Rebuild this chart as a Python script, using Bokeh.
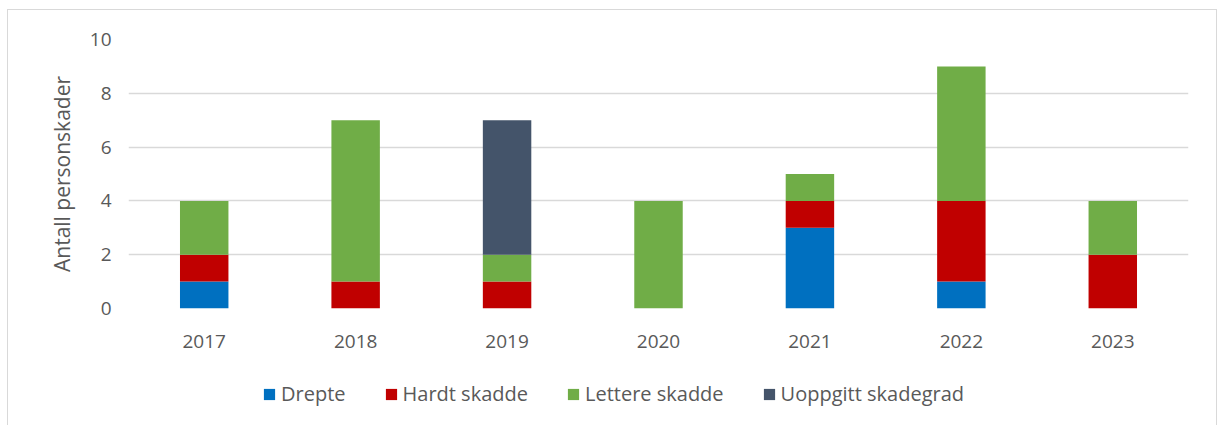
from bokeh.plotting import figure
from bokeh.models import ColumnDataSource, FactorRange, Range1d, Legend, FixedTicker
from bokeh.layouts import column
from bokeh.embed import file_html
from bokeh.resources import INLINE

years = ["2017", "2018", "2019", "2020", "2021", "2022", "2023"]
drepte = [1, 0, 0, 0, 3, 1, 0]
hardt = [1, 1, 1, 0, 1, 3, 2]
lettere = [2, 6, 1, 4, 1, 5, 2]
uoppgitt = [0, 0, 5, 0, 0, 0, 0]
series = ["Drepte", "Hardt skadde", "Lettere skadde", "Uoppgitt skadegrad"]
colors = ["#0070C0", "#C00000", "#70AD47", "#44546A"]
y_ticks = [0, 2, 4, 6, 8, 10]

src = ColumnDataSource(dict(x=years, Drepte=drepte, Hardt=hardt, Lettere=lettere, Uoppgitt=uoppgitt))
keys = ["Drepte", "Hardt", "Lettere", "Uoppgitt"]

FONT = "Open Sans"
TXT = "#595959"
W = 1208

xr = FactorRange(*years, range_padding=0)
xr.factor_padding = 0

p = figure(width=W, height=358, x_range=xr,
           y_range=Range1d(0, 10), output_backend="svg", toolbar_location=None,
           min_border_left=120, min_border_right=28, min_border_top=29, min_border_bottom=60,
           border_fill_color="white")
p.vbar_stack(keys, x="x", width=0.32, source=src, color=colors, line_color=None)

p.outline_line_color = None
p.xgrid.grid_line_color = None
p.ygrid.grid_line_color = "#D9D9D9"
p.ygrid.grid_line_width = 1.3
p.yaxis.ticker = FixedTicker(ticks=y_ticks)
for ax in (p.xaxis[0], p.yaxis[0]):
    ax.axis_line_color = None
    ax.major_tick_line_color = None
    ax.minor_tick_line_color = None
    ax.major_label_text_font = FONT
    ax.major_label_text_font_size = "19px"
    ax.major_label_text_color = TXT
p.yaxis.major_label_standoff = 11
p.xaxis.major_label_standoff = 20
p.yaxis.axis_label = "Antall personskader"
p.yaxis.axis_label_text_font = FONT
p.yaxis.axis_label_text_font_size = "21px"
p.yaxis.axis_label_text_font_style = "normal"
p.yaxis.axis_label_text_color = TXT
p.yaxis.axis_label_standoff = 11

# legend row: the same stacked series, drawn in a strip whose y-range keeps the bars out of view
p2 = figure(width=W, height=57, x_range=xr, y_range=Range1d(100, 101),
            x_axis_type=None, y_axis_type=None, output_backend="svg", toolbar_location=None,
            min_border=0, border_fill_color="white")
p2.outline_line_color = None
p2.grid.grid_line_color = None
leg_rs = p2.vbar_stack(keys, x="x", width=0.32, source=src, color=colors, line_color=None)
legend = Legend(items=[(s, [r]) for s, r in zip(series, leg_rs)], orientation="horizontal",
                location=(134, 18), label_text_font=FONT, label_text_font_size="20px",
                label_text_color=TXT, glyph_width=14, glyph_height=14, label_standoff=5,
                spacing=38, border_line_color=None, background_fill_alpha=0,
                padding=0, margin=0)
p2.add_layout(legend)

layout = column(p, p2, spacing=0,
                styles={"border": "1px solid #D9D9D9", "margin-left": "7px", "margin-top": "9px"})

open("out.html", "w").write(file_html(layout, INLINE))
